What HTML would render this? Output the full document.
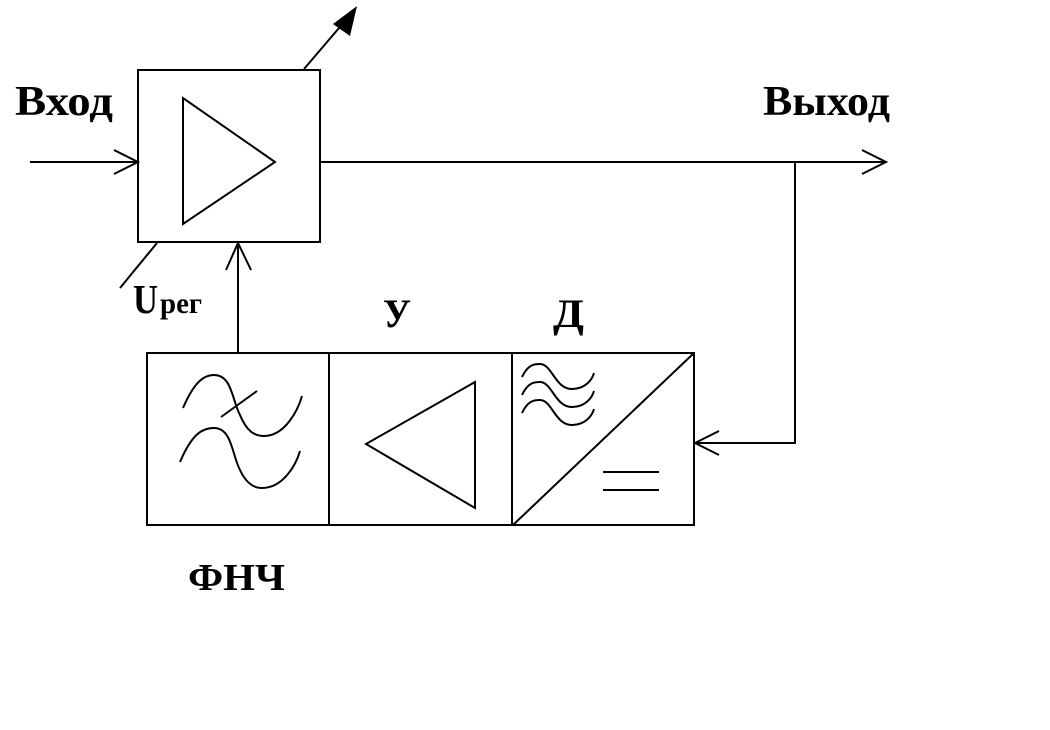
<!DOCTYPE html>
<html><head><meta charset="utf-8"><style>
html,body{margin:0;padding:0;background:#fff;}
svg{display:block;}
text{font-family:"Liberation Serif","Noto Serif CJK SC",serif;font-weight:bold;fill:#000;}
</style></head><body>
<svg width="1050" height="730" viewBox="0 0 1050 730" xmlns="http://www.w3.org/2000/svg">
<g fill="none" stroke="#000" stroke-width="2">
<rect x="138" y="70" width="182" height="172"/>
<polygon points="183,98 183,224 275,162"/>
<line x1="30" y1="162" x2="138" y2="162"/>
<polyline points="114,150 138,162 114,174"/>
<line x1="320" y1="162" x2="886" y2="162"/>
<polyline points="862,150 886,162 862,174"/>
<polyline points="795,162 795,443 695,443"/>
<polyline points="719,431 695,443 719,455"/>
<line x1="304" y1="69" x2="345" y2="21"/>
<line x1="157" y1="243" x2="120" y2="288"/>
<line x1="238" y1="353" x2="238" y2="243"/>
<polyline points="226,270 238,243 251,270"/>
<rect x="147" y="353" width="547" height="172"/>
<line x1="329" y1="353" x2="329" y2="525"/>
<line x1="512" y1="353" x2="512" y2="525"/>
<path d="M183,408 C195,380 205,375 214,375 C232,375 232,400 240,415 C247,432 255,436 264,436 C285,436 298,410 302,396"/>
<path d="M180,462 C192,434 202,428 214,428 C232,428 232,455 240,470 C247,485 255,488 262,488 C283,488 296,465 300,451"/>
<line x1="221" y1="417" x2="257" y2="391"/>
<polygon points="366,444 475,382 475,508"/>
<line x1="513" y1="525" x2="694" y2="353"/>
<line x1="603" y1="472" x2="659" y2="472"/>
<line x1="603" y1="490" x2="659" y2="490"/>
<path d="M522,377 C528,364 535,364 540,364 C552,364 555,389 572,389 C585,389 592,380 594,373"/>
<path d="M522,395 C528,382 535,382 540,382 C552,382 555,407 572,407 C585,407 592,398 594,391"/>
<path d="M522,413 C528,400 535,400 540,400 C552,400 555,425 572,425 C585,425 592,416 594,409"/>
</g>
<polygon points="357,6 333,24 350,36" fill="#000"/>
<text x="15" y="115" font-size="42" textLength="98" lengthAdjust="spacingAndGlyphs">Вход</text>
<text x="763" y="115" font-size="42" textLength="127" lengthAdjust="spacingAndGlyphs">Выход</text>
<text x="133" y="313" font-size="41" textLength="25" lengthAdjust="spacingAndGlyphs">U</text>
<text x="160" y="313" font-size="30" textLength="42" lengthAdjust="spacingAndGlyphs">рег</text>
<text x="383" y="327" font-size="40" textLength="28" lengthAdjust="spacingAndGlyphs">У</text>
<text x="553" y="327" font-size="40" textLength="31" lengthAdjust="spacingAndGlyphs">Д</text>
<text x="188" y="590" font-size="38" textLength="97" lengthAdjust="spacingAndGlyphs">ФНЧ</text>
</svg>
</body></html>
